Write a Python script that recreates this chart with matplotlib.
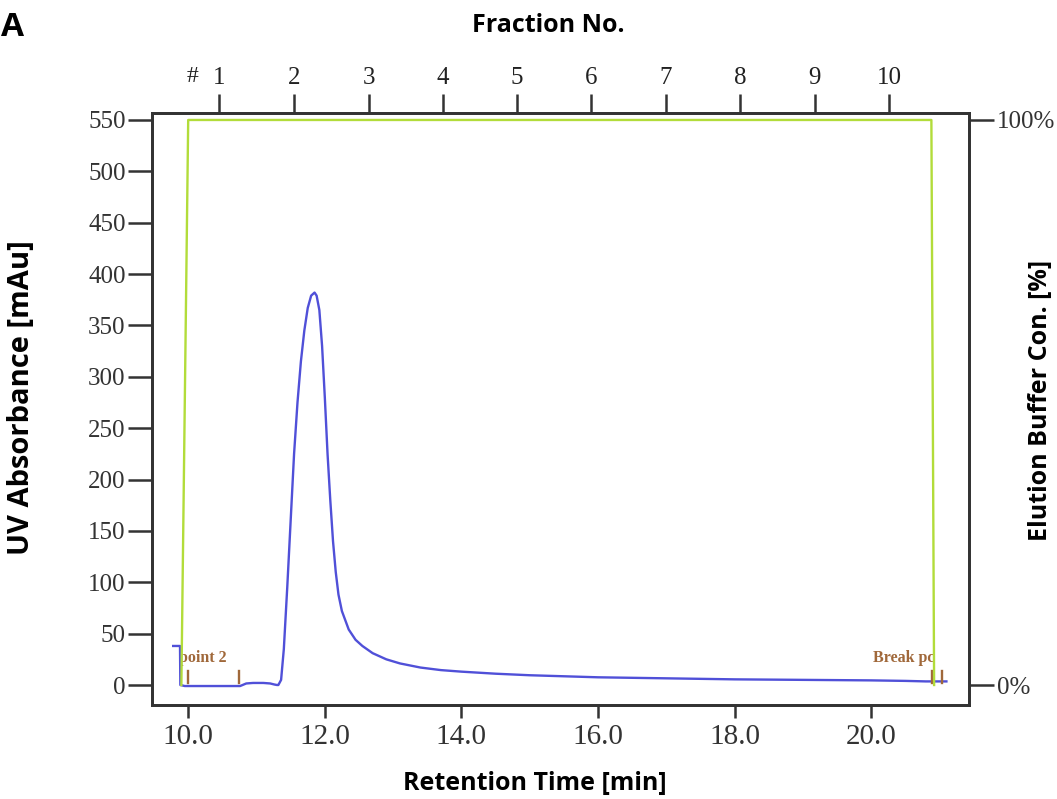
import matplotlib
matplotlib.use("Agg")
import matplotlib.pyplot as plt
import matplotlib.transforms as mtransforms

# ---- data ----
uv_time = [9.78, 9.88, 9.885, 9.95, 10.3, 10.76, 10.85, 10.95, 11.1, 11.2, 11.26, 11.30,
           11.32, 11.36, 11.40, 11.45, 11.50, 11.55, 11.60, 11.65, 11.70, 11.75, 11.80,
           11.85, 11.88, 11.92, 11.96, 12.00, 12.04, 12.08, 12.12, 12.16, 12.20, 12.25,
           12.30, 12.35, 12.45, 12.55, 12.70, 12.90, 13.10, 13.40, 13.70, 14.00, 14.50,
           15.00, 15.50, 16.00, 17.00, 18.00, 19.00, 20.00, 20.50, 20.80, 21.10]
uv_abs = [38, 38, 0, -1, -1, -1, 1.5, 2, 2, 1.5, 0.5, 0,
          0, 5, 35, 95, 160, 225, 275, 315, 345, 367, 379,
          382, 379, 365, 330, 280, 225, 180, 140, 110, 88, 72,
          63, 54, 44, 38, 31, 25, 21, 17, 14.5, 13, 11,
          9.5, 8.5, 7.5, 6.5, 5.5, 5, 4.5, 4, 3.5, 3.5]

buffer_time = [9.90, 10.00, 20.88, 20.92]
buffer_pct = [0, 100, 100, 0]

fraction_time = [10.45, 11.55, 12.64, 13.73, 14.81, 15.90, 16.99, 18.08, 19.17, 20.26]
fraction_labels = ["1", "2", "3", "4", "5", "6", "7", "8", "9", "10"]

x_ticks = [10.0, 12.0, 14.0, 16.0, 18.0, 20.0]
y_ticks = [0, 50, 100, 150, 200, 250, 300, 350, 400, 450, 500, 550]

event_time = [10.0, 10.75, 20.89, 21.04]
event_labels = [("point 2", 9.86), ("Break pc", 20.03)]

# ---- styling ----
serif = "Liberation Serif"
sans = "Open Sans"
spine_col = "#333333"
blue = "#5050d8"
green = "#b2dc3a"
brown = "#a0683a"

fig = plt.figure(figsize=(10.57, 7.99), dpi=100)
ax = fig.add_axes([0.1438, 0.1176, 0.9167 - 0.1438, 0.8586 - 0.1176])

xlim = (9.47, 21.43)
ylim = (-19.5, 556.8)
ax.set_xlim(*xlim)
ax.set_ylim(*ylim)

ax.plot(uv_time, uv_abs, color=blue, lw=1.7, zorder=3)

# event markers
for t in event_time:
    ax.plot([t, t], [2, 14], color=brown, lw=1.7, zorder=4)
for lab, t in event_labels:
    ax.text(t, 26, lab, color=brown, fontsize=11.5, fontweight="bold",
            family=serif, ha="left", va="center", zorder=1)

# right axis (buffer)
axr = ax.twinx()
axr.set_ylim(ylim[0] / 5.5, ylim[1] / 5.5)
axr.plot(buffer_time, buffer_pct, color=green, lw=1.7, zorder=2)
axr.set_yticks([0, 100])
axr.set_yticklabels(["0%", "100%"])

# top axis (fractions)
axt = ax.twiny()
axt.set_xlim(*xlim)
axt.set_xticks(fraction_time)
axt.set_xticklabels(fraction_labels)

ax.set_xticks(x_ticks)
ax.set_xticklabels([f"{v:.1f}" for v in x_ticks])
ax.set_yticks(y_ticks)
ax.set_yticklabels([str(v) for v in y_ticks])

for a in (ax, axr, axt):
    for s in a.spines.values():
        s.set_color(spine_col)
        s.set_linewidth(1.8)

ax.tick_params(axis="y", length=17, width=1.8, color=spine_col, labelsize=18,
               pad=2, labelcolor="#333333")
ax.tick_params(axis="x", length=9, width=1.8, color=spine_col, labelsize=21,
               pad=5, labelcolor="#333333")
axr.tick_params(axis="y", length=18, width=1.8, color=spine_col, labelsize=18,
                pad=2, labelcolor="#333333")
axt.tick_params(axis="x", length=14, width=1.8, color=spine_col, labelsize=18,
                pad=3, labelcolor="#222222")
for a in (ax, axr, axt):
    for lbl in a.get_xticklabels() + a.get_yticklabels():
        lbl.set_family(serif)

# '#' before first fraction label
trans = mtransforms.blended_transform_factory(axt.transData, fig.transFigure)
fig.text(10.07, 1 - 76 / 799, "#", transform=trans, family=serif, fontsize=17,
         ha="center", va="center", color="#222222")

fig.text(548 / 1057, 1 - 25 / 799, "Fraction No.", family=sans, fontweight="bold",
         fontsize=18, ha="center", va="center")
fig.text(535 / 1057, 1 - 783 / 799, "Retention Time [min]", family=sans,
         fontweight="bold", fontsize=18, ha="center", va="center")
fig.text(22 / 1057, 1 - 398 / 799, "UV Absorbance [mAu]", family=sans,
         fontweight="bold", fontsize=21, ha="center", va="center", rotation=90)
fig.text(1040 / 1057, 1 - 400 / 799, "Elution Buffer Con. [%]", family=sans,
         fontweight="bold", fontsize=18, ha="center", va="center", rotation=90)
fig.text(0.001, 1 - 27 / 799, "A", family=sans, fontweight="bold", fontsize=24,
         ha="left", va="center")

fig.savefig("out.png", dpi=100)
